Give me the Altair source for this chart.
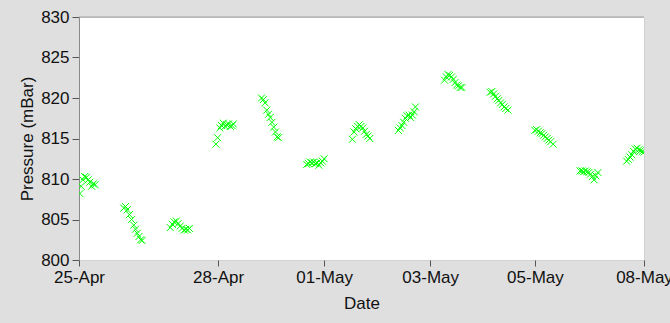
import json

import altair as alt
import pandas as pd

# Sample times in days after 25-Apr 00:00, one block per measuring day
day_offsets = [
    0.02, 0.05, 0.09, 0.13, 0.17, 0.21, 0.25, 0.29, 0.33, 0.37,
    1.03, 1.07, 1.11, 1.16, 1.21, 1.26, 1.30, 1.34, 1.38, 1.42, 1.45,
    2.10, 2.15, 2.19, 2.24, 2.28, 2.33, 2.37, 2.42, 2.46, 2.50, 2.54,
    3.15, 3.19, 3.24, 3.28, 3.32, 3.36, 3.40, 3.44, 3.48, 3.52, 3.55,
    4.20, 4.24, 4.28, 4.32, 4.36, 4.40, 4.44, 4.48, 4.52, 4.56, 4.59,
    5.24, 5.28, 5.32, 5.36, 5.40, 5.44, 5.48, 5.52, 5.56, 5.60, 5.64,
    6.29, 6.33, 6.37, 6.41, 6.45, 6.49, 6.53, 6.57, 6.61, 6.65, 6.69,
    7.35, 7.39, 7.43, 7.47, 7.51, 7.55, 7.59, 7.63, 7.67, 7.71, 7.74,
    8.41, 8.45, 8.49, 8.53, 8.57, 8.61, 8.65, 8.69, 8.73, 8.77, 8.81,
    9.46, 9.50, 9.54, 9.58, 9.62, 9.66, 9.70, 9.74, 9.78, 9.82, 9.87,
    10.49, 10.53, 10.57, 10.61, 10.65, 10.69, 10.73, 10.77, 10.81, 10.85, 10.91,
    11.53, 11.57, 11.61, 11.65, 11.69, 11.73, 11.77, 11.81, 11.85, 11.89, 11.94,
    12.60, 12.64, 12.68, 12.72, 12.76, 12.80, 12.84, 12.88, 12.92, 12.96, 13.00,
]

# Station pressure in mBar, same order as day_offsets
pressure_mbar = [
    808.2, 809.1, 809.9, 810.3, 810.2, 809.9, 809.6, 809.1, 809.4, 809.3,
    806.4, 806.6, 806.2, 805.6, 805.0, 804.3, 803.8, 803.3, 802.9, 802.5, 802.4,
    804.0, 804.4, 804.7, 804.8, 804.5, 804.2, 803.9, 803.7, 803.8, 803.7, 803.9,
    814.3, 815.1, 816.3, 816.6, 816.9, 816.5, 816.7, 816.8, 816.5, 816.6, 816.8,
    820.0, 819.8, 819.4, 818.5, 818.0, 817.6, 817.0, 816.4, 815.8, 815.2, 815.1,
    811.8, 811.9, 812.1, 812.0, 812.1, 811.9, 812.0, 811.7, 812.0, 812.2, 812.5,
    814.9, 815.8, 816.2, 816.5, 816.7, 816.5, 816.3, 815.9, 815.5, 815.3, 815.0,
    816.0, 816.3, 816.6, 817.0, 817.5, 817.8, 817.9, 817.6, 817.9, 818.3, 818.9,
    822.2, 822.6, 822.9, 822.8, 822.6, 822.3, 821.9, 821.6, 821.5, 821.3, 821.3,
    820.7, 820.8, 820.5, 820.2, 819.9, 819.7, 819.4, 819.2, 818.9, 818.7, 818.5,
    816.0, 816.1, 815.9, 815.7, 815.6, 815.4, 815.2, 815.0, 814.8, 814.6, 814.3,
    811.0, 811.0, 810.9, 811.0, 810.9, 810.8, 810.6, 810.3, 809.9, 810.4, 810.8,
    812.2, 812.4, 812.7, 813.0, 813.4, 813.7, 813.8, 813.6, 813.5, 813.4, 813.3,
]

# Date axis ticks (day offsets) and the labels printed under them
tick_days = [0, 3.2, 5.64, 8.08, 10.49, 13]
tick_labels = ["25-Apr", "28-Apr", "01-May", "03-May", "05-May", "08-May"]
pressure_ticks = [800, 805, 810, 815, 820, 825, 830]

FONT = "Liberation Sans"
PLOT_W, PLOT_H = 565, 243

df = pd.DataFrame({"day": day_offsets, "pressure": pressure_mbar})

label_expr = f"{json.dumps(tick_labels)}[indexof({json.dumps(tick_days)}, datum.value)]"

x_enc = alt.X(
    "day:Q",
    scale=alt.Scale(domain=[0, 13], nice=False, zero=False),
    axis=alt.Axis(
        values=tick_days,
        labelExpr=label_expr,
        title="Date",
        grid=False,
        domain=False,
        tickColor="#555555",
        tickSize=6,
        labelPadding=3,
        labelFontSize=17,
        labelFont=FONT,
        labelColor="#111111",
        labelOverlap=False,
        labelFlush=False,
        titleFont=FONT,
        titleFontSize=17,
        titleFontWeight="normal",
        titleColor="#111111",
        titleX=PLOT_W / 2,
        titleY=48,
        titleAlign="center",
        titleBaseline="alphabetic",
    ),
)

y_enc = alt.Y(
    "pressure:Q",
    scale=alt.Scale(domain=[800, 830], nice=False, zero=False),
    axis=alt.Axis(
        values=pressure_ticks,
        title="Pressure (mBar)",
        grid=False,
        domainColor="#8a8a8a",
        tickColor="#555555",
        tickSize=7,
        labelPadding=3,
        labelFontSize=17,
        labelFont=FONT,
        labelColor="#111111",
        labelBaseline="middle",
        titleFont=FONT,
        titleFontSize=17,
        titleFontWeight="normal",
        titleColor="#111111",
        titleAngle=270,
        titleX=-52,
        titleY=PLOT_H / 2,
        titleAlign="center",
        titleBaseline="middle",
    ),
)

points = alt.Chart(df).mark_point(
    shape="M-1,-1L1,1M-1,1L1,-1",
    filled=False,
    stroke="#00ff00",
    strokeWidth=1,
    size=49,
    opacity=1,
    clip=True,
).encode(x=x_enc, y=y_enc)

# grey frame line along the top of the plot area
top_edge = alt.Chart(pd.DataFrame({"edge": [0]})).mark_rule(
    color="#a0a0a0", strokeWidth=1
).encode(x=alt.value(0), x2=alt.value(PLOT_W), y=alt.value(0))

chart = (
    alt.layer(points, top_edge)
    .properties(
        width=PLOT_W,
        height=PLOT_H,
        autosize=alt.AutoSizeParams(type="none"),
        padding={"left": 79, "top": 17, "right": 26, "bottom": 63},
        background="#dfdfdf",
    )
    .configure_view(stroke="#d2d2d2", fill="white")
)

chart.save("out.html", embed_options={"renderer": "svg", "actions": False})
